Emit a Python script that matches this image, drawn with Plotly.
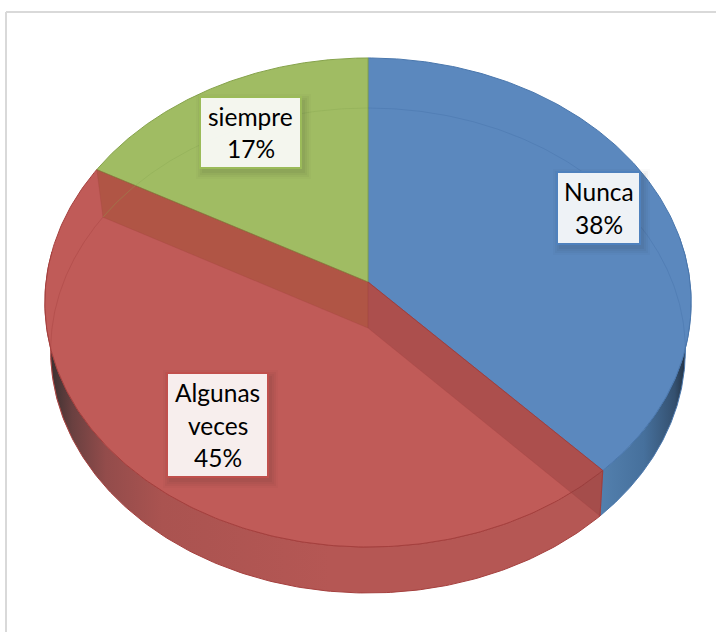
import numpy as np
import plotly.graph_objects as go

categories = ["Nunca", "Algunas veces", "siempre"]
values = [38, 45, 17]
label_lines = [["Nunca"], ["Algunas", "veces"], ["siempre"]]

W, H = 716, 632
face = ["#5b88be", "#c05b58", "#a0bc63"]
edge = ["#4a77ad", "#a5403e", "#86a34c"]
inner = ["rgba(70,115,170,0.45)", "rgba(170,70,68,0.5)", "rgba(135,165,80,0.35)"]
label_edge = ["#4f81bd", "#c0504d", "#9bbb59"]
wall_scale = [
    [[0, "#5380ae"], [0.5, "#46709c"], [0.85, "#34506f"], [1, "#1f2a38"]],
    [[0, "#3a3030"], [0.08, "#6a4040"], [0.2, "#934c4b"], [0.4, "#aa5350"], [1, "#b55754"]],
    None,
]
wall_range = [(600, 688), (50, 330), None]
wall_frac = [(0.22, None), (None, 0.77), None]
label_box = [(557, 172, 640, 244), (167, 373, 268, 477), (200, 97, 301, 168)]
LINE_STEP = 32.5


def proj(frac, cx, cy, k, d, c):
    a = 2 * np.pi * np.asarray(frac, dtype=float)
    X, Y = np.sin(a), np.cos(a)
    s = 1 + c * Y
    return cx + k * X / s, cy - d * Y / s


def top(f):
    return proj(f, 368, 282, 322, 242.8, 0.0838)


def bot(f):
    return proj(f, 368, 328, 316, 240.4, 0.0928)


fr = np.cumsum([0] + values) / sum(values)
fig = go.Figure()


def poly(xs, ys, **kw):
    fig.add_scatter(x=list(xs), y=list(ys), mode="lines", fill="toself", hoverinfo="skip", showlegend=False, **kw)


# outer walls
for i in (0, 1):
    lo = wall_frac[i][0] if wall_frac[i][0] is not None else fr[i]
    hi = wall_frac[i][1] if wall_frac[i][1] is not None else fr[i + 1]
    f = np.linspace(lo, hi, 200)
    tx, ty = top(f)
    bx, by = bot(f)
    poly(
        np.r_[tx, bx[::-1], tx[0]],
        np.r_[ty, by[::-1], ty[0]],
        line=dict(color=edge[i], width=1),
        fillgradient=dict(type="horizontal", colorscale=wall_scale[i], start=wall_range[i][0], stop=wall_range[i][1]),
    )

# top faces
ax, ay = 368, 282
for i in range(3):
    f = np.linspace(fr[i], fr[i + 1], 200)
    tx, ty = top(f)
    poly(np.r_[ax, tx, ax], np.r_[ay, ty, ay], fillcolor=face[i], line=dict(color=edge[i], width=1))

# see-through inner walls of the largest slice
for frac, col in ((fr[1], "rgba(140,60,60,0.38)"), (fr[2], "rgba(150,75,40,0.38)")):
    tx, ty = top(frac)
    bx, by = bot(frac)
    poly([368, tx, bx, 368, 368], [282, ty, by, 328, 282], fillcolor=col, line=dict(color="rgba(165,64,62,0.25)", width=1))

# see-through bottom rim (only where it crosses the top face)
for i, (lo, hi) in enumerate(((fr[0], 0.27), (0.68, fr[2]), (fr[2], fr[3]))):
    f = np.linspace(lo, hi, 200)
    bx, by = bot(f)
    fig.add_scatter(x=bx, y=by, mode="lines", line=dict(color=inner[i], width=1), hoverinfo="skip", showlegend=False)

# labels
shapes = [
    dict(type="line", xref="x", yref="y", x0=6, x1=6, y0=12, y1=H, line=dict(color="#d9d9d9", width=2)),
    dict(type="line", xref="x", yref="y", x0=6, x1=W, y0=12, y1=12, line=dict(color="#d9d9d9", width=2)),
]
annotations = []
for i, (x0, y0, x1, y1) in enumerate(label_box):
    for g, op in ((7, 0.025), (5, 0.035), (3, 0.045), (1, 0.05)):
        shapes.append(dict(type="rect", xref="x", yref="y", x0=x0 - g + 3, x1=x1 + g + 3, y0=y0 - g + 4, y1=y1 + g + 4,
                           fillcolor=f"rgba(40,40,40,{op})", line_width=0, layer="above"))
    shapes.append(dict(type="rect", xref="x", yref="y", x0=x0, x1=x1, y0=y0, y1=y1,
                       fillcolor="rgba(255,255,255,0.9)", line=dict(color=label_edge[i], width=2), layer="above"))
    lines = label_lines[i] + [f"{values[i]}%"]
    n = len(lines)
    for j, t in enumerate(lines):
        annotations.append(dict(x=(x0 + x1) / 2, y=(y0 + y1) / 2 + (j - (n - 1) / 2) * LINE_STEP, xref="x", yref="y",
                                text=t, showarrow=False, font=dict(family="Lato", size=24.5, color="#000000")))

fig.update_layout(
    width=W, height=H, autosize=False, margin=dict(l=0, r=0, t=0, b=0),
    paper_bgcolor="white", plot_bgcolor="white", showlegend=False,
    xaxis=dict(range=[0, W], visible=False, fixedrange=True),
    yaxis=dict(range=[H, 0], visible=False, fixedrange=True),
    shapes=shapes, annotations=annotations,
)
fig.write_html("out.html", post_script="document.body.style.margin='0';", config={"displayModeBar": False})
